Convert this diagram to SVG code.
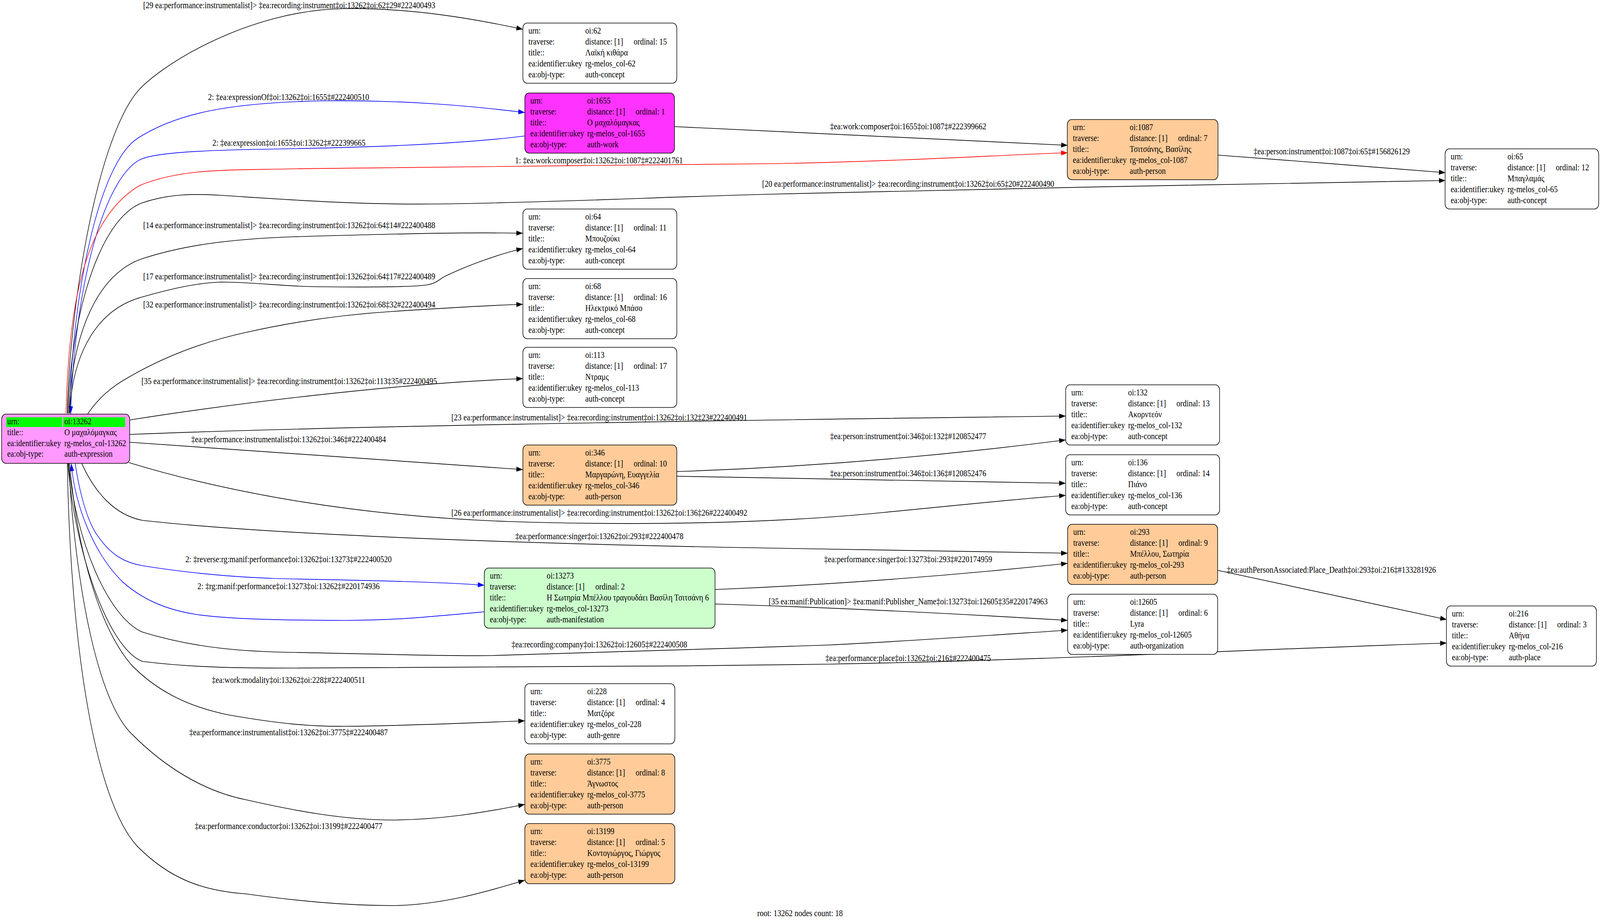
<svg xmlns="http://www.w3.org/2000/svg" width="4896" height="2360" viewBox="0 0 4896 2360" preserveAspectRatio="none">
<style>
svg{width:100vw;height:100vh}
text{font-family:"Liberation Serif","Times New Roman",serif;font-size:23.33px;fill:#000}
.lb{text-anchor:middle}
.nb{stroke:#000;stroke-width:1.7}
.w{fill:#fff}.o{fill:#ffcc99}.m{fill:#ff33ff}.g{fill:#ccffcc}.p{fill:#ff99ff}
.e{fill:none;stroke:#000;stroke-width:1.7}
.b{stroke:#0000ff}.r{stroke:#ff0000}
</style>
<defs>
<marker id="ak" markerUnits="userSpaceOnUse" markerWidth="22" markerHeight="14" refX="20" refY="6.5" orient="auto"><path d="M0,0 L20,6.5 L0,13 z" fill="#000"/></marker>
<marker id="ab" markerUnits="userSpaceOnUse" markerWidth="22" markerHeight="14" refX="20" refY="6.5" orient="auto"><path d="M0,0 L20,6.5 L0,13 z" fill="#0000ff"/></marker>
<marker id="ar" markerUnits="userSpaceOnUse" markerWidth="22" markerHeight="14" refX="20" refY="6.5" orient="auto"><path d="M0,0 L20,6.5 L0,13 z" fill="#ff0000"/></marker>
</defs>
<rect width="4896" height="2360" fill="#fff"/>
<g id="edges">
<path class="e" marker-end="url(#ak)" d="M206,1058 C212,800 290,380 414,241 C480,170 760,25 1054,22 C1260,20 1450,48 1600,75"/>
<path class="e b" marker-end="url(#ab)" d="M213,1058 C220,760 300,420 421,354 C540,290 700,262 1000,258 C1250,256 1450,272 1606,288"/>
<path class="e b" marker-end="url(#ab)" d="M1606,348 C1400,370 1100,378 800,382 C600,385 480,392 436,406 C330,440 230,700 216,1060"/>
<path class="e r" marker-end="url(#ar)" d="M202,1058 C210,800 250,560 429,474 C560,430 700,436 903,432 C1300,426 1900,424 2360,419 C2800,412 3100,395 3267,391"/>
<path class="e" marker-end="url(#ak)" d="M2063,324 C2500,338 2900,355 3267,372"/>
<path class="e" marker-end="url(#ak)" d="M3727,397 C3950,410 4200,428 4423,442"/>
<path class="e" marker-end="url(#ak)" d="M208,1058 C215,820 300,560 436,519 C520,495 600,496 677,500 C900,512 1100,525 1355,522 C1700,518 2000,505 2360,497 C3000,484 3800,470 4423,462"/>
<path class="e" marker-end="url(#ak)" d="M211,1058 C220,850 300,700 436,662 C560,628 700,612 900,606 C1150,600 1400,594 1600,597"/>
<path class="e" marker-end="url(#ak)" d="M213,1058 C222,900 300,790 436,760 C520,740 600,724 677,722 C780,722 880,734 978,734 C1100,735 1250,735 1300,730 C1340,726 1345,712 1370,704 C1430,680 1520,652 1600,636"/>
<path class="e" marker-end="url(#ak)" d="M268,1060 C300,1020 340,990 399,963 C500,915 620,875 752,851 C900,823 1050,805 1204,797 C1350,789 1480,782 1600,779"/>
<path class="e" marker-end="url(#ak)" d="M397,1075 C700,1035 1200,982 1600,969"/>
<path class="e" marker-end="url(#ak)" d="M397,1112 C1000,1092 2000,1078 3261,1065"/>
<path class="e" marker-end="url(#ak)" d="M396,1132 C800,1155 1200,1180 1600,1202"/>
<path class="e" marker-end="url(#ak)" d="M394,1184 C700,1262 1100,1322 1560,1335 C2000,1347 2400,1337 2700,1312 C2950,1292 3100,1278 3261,1268"/>
<path class="e" marker-end="url(#ak)" d="M250,1186 C290,1260 350,1318 436,1332 C900,1375 1800,1395 2360,1403 C2800,1409 3100,1414 3267,1416"/>
<path class="e b" marker-end="url(#ab)" d="M230,1186 C245,1270 270,1340 301,1374 C340,1420 380,1440 436,1448 C600,1470 750,1480 903,1482 C1150,1486 1350,1490 1482,1498"/>
<path class="e b" marker-end="url(#ab)" d="M1482,1566 C1300,1580 1200,1588 1054,1588 C900,1588 700,1585 602,1573 C500,1560 430,1530 376,1490 C290,1420 230,1300 218,1186"/>
<path class="e" marker-end="url(#ak)" d="M210,1186 C230,1380 330,1580 436,1618 C600,1660 750,1668 903,1670 C1200,1675 1400,1680 1505,1678 C1900,1670 2200,1660 2536,1651 C2800,1640 3050,1625 3267,1613"/>
<path class="e" marker-end="url(#ak)" d="M208,1186 C225,1400 330,1660 436,1693 C600,1710 750,1710 903,1710 C1500,1710 2000,1706 2536,1700 C3200,1690 3900,1660 4427,1646"/>
<path class="e" marker-end="url(#ak)" d="M213,1186 C235,1400 300,1600 400,1700 C480,1770 580,1810 700,1830 C850,1852 950,1860 1054,1859 C1250,1858 1450,1850 1606,1845"/>
<path class="e" marker-end="url(#ak)" d="M210,1186 C230,1500 300,1800 406,1881 C500,1960 620,2025 752,2047 C900,2075 1050,2099 1204,2099 C1350,2098 1480,2080 1606,2059"/>
<path class="e" marker-end="url(#ak)" d="M206,1186 C215,1650 290,2050 421,2167 C520,2250 620,2280 752,2288 C900,2305 1050,2318 1204,2318 C1350,2316 1480,2285 1606,2253"/>
<path class="e" marker-end="url(#ak)" d="M2071,1207 C2500,1195 2900,1165 3261,1126"/>
<path class="e" marker-end="url(#ak)" d="M2071,1219 C2500,1225 2900,1232 3261,1237"/>
<path class="e" marker-end="url(#ak)" d="M2188,1509 C2600,1495 2950,1470 3267,1442"/>
<path class="e" marker-end="url(#ak)" d="M2188,1546 C2600,1556 2950,1572 3267,1588"/>
<path class="e" marker-end="url(#ak)" d="M3727,1460 C3950,1500 4200,1545 4427,1586"/>
<text class="lb" x="885" y="21">[29 ea:performance:instrumentalist]&gt; ‡ea:recording:instrument‡oi:13262‡oi:62‡29#222400493</text>
<text class="lb" x="883" y="256">2: ‡ea:expressionOf‡oi:13262‡oi:1655‡#222400510</text>
<text class="lb" x="884" y="373">2: ‡ea:expression‡oi:1655‡oi:13262‡#222399665</text>
<text class="lb" x="1833" y="418">1: ‡ea:work:composer‡oi:13262‡oi:1087‡#222401761</text>
<text class="lb" x="2779" y="478">[20 ea:performance:instrumentalist]&gt; ‡ea:recording:instrument‡oi:13262‡oi:65‡20#222400490</text>
<text class="lb" x="885" y="584">[14 ea:performance:instrumentalist]&gt; ‡ea:recording:instrument‡oi:13262‡oi:64‡14#222400488</text>
<text class="lb" x="885" y="715">[17 ea:performance:instrumentalist]&gt; ‡ea:recording:instrument‡oi:13262‡oi:64‡17#222400489</text>
<text class="lb" x="885" y="787">[32 ea:performance:instrumentalist]&gt; ‡ea:recording:instrument‡oi:13262‡oi:68‡32#222400494</text>
<text class="lb" x="885" y="983">[35 ea:performance:instrumentalist]&gt; ‡ea:recording:instrument‡oi:13262‡oi:113‡35#222400495</text>
<text class="lb" x="1834" y="1076">[23 ea:performance:instrumentalist]&gt; ‡ea:recording:instrument‡oi:13262‡oi:132‡23#222400491</text>
<text class="lb" x="883" y="1132">‡ea:performance:instrumentalist‡oi:13262‡oi:346‡#222400484</text>
<text class="lb" x="1834" y="1320">[26 ea:performance:instrumentalist]&gt; ‡ea:recording:instrument‡oi:13262‡oi:136‡26#222400492</text>
<text class="lb" x="1834" y="1380">‡ea:performance:singer‡oi:13262‡oi:293‡#222400478</text>
<text class="lb" x="883" y="1439">2: ‡reverse:rg:manif:performance‡oi:13262‡oi:13273‡#222400520</text>
<text class="lb" x="883" y="1508">2: ‡rg:manif:performance‡oi:13273‡oi:13262‡#220174936</text>
<text class="lb" x="1834" y="1657">‡ea:recording:company‡oi:13262‡oi:12605‡#222400508</text>
<text class="lb" x="883" y="1748">‡ea:work:modality‡oi:13262‡oi:228‡#222400511</text>
<text class="lb" x="883" y="1882">‡ea:performance:instrumentalist‡oi:13262‡oi:3775‡#222400487</text>
<text class="lb" x="883" y="2122">‡ea:performance:conductor‡oi:13262‡oi:13199‡#222400477</text>
<text class="lb" x="2779" y="331">‡ea:work:composer‡oi:1655‡oi:1087‡#222399662</text>
<text class="lb" x="4075" y="395">‡ea:person:instrument‡oi:1087‡oi:65‡#156826129</text>
<text class="lb" x="2779" y="1124">‡ea:person:instrument‡oi:346‡oi:132‡#120852477</text>
<text class="lb" x="2779" y="1219">‡ea:person:instrument‡oi:346‡oi:136‡#120852476</text>
<text class="lb" x="2779" y="1439">‡ea:performance:singer‡oi:13273‡oi:293‡#220174959</text>
<text class="lb" x="2779" y="1547">[35 ea:manif:Publication]&gt; ‡ea:manif:Publisher_Name‡oi:13273‡oi:12605‡35#220174963</text>
<text class="lb" x="4074" y="1466">‡ea:authPersonAssociated:Place_Death‡oi:293‡oi:216‡#133281926</text>
<text class="lb" x="2779" y="1692">‡ea:performance:place‡oi:13262‡oi:216‡#222400475</text>
</g>
<g id="n13262">
<rect class="nb p" x="5" y="1060" width="392" height="126" rx="13"/>
<rect x="19" y="1068" width="171" height="25" fill="#00ff00"/>
<rect x="193" y="1068" width="190" height="25" fill="#00ff00"/>
<text x="22" y="1086">urn:</text><text x="197" y="1086">oi:13262</text>
<text x="22" y="1114">title::</text><text x="197" y="1114">Ο μαχαλόμαγκας</text>
<text x="22" y="1142">ea:identifier:ukey</text><text x="197" y="1142">rg-melos_col-13262</text>
<text x="22" y="1169">ea:obj-type:</text><text x="197" y="1169">auth-expression</text>
</g>
<g id="n62" transform="translate(1600,59)">
<rect class="nb w" width="471" height="154" rx="13"/>
<text x="17" y="27">urn:</text><text x="191" y="27">oi:62</text>
<text x="17" y="55">traverse:</text><text x="191" y="55">distance: [1]</text><text x="339" y="55">ordinal: 15</text>
<text x="17" y="83">title::</text><text x="191" y="83">Λαϊκή κιθάρα</text>
<text x="17" y="111">ea:identifier:ukey</text><text x="191" y="111">rg-melos_col-62</text>
<text x="17" y="139">ea:obj-type:</text><text x="191" y="139">auth-concept</text>
</g>
<g id="n1655" transform="translate(1606,238)">
<rect class="nb m" width="458" height="154" rx="13"/>
<text x="17" y="27">urn:</text><text x="191" y="27">oi:1655</text>
<text x="17" y="55">traverse:</text><text x="191" y="55">distance: [1]</text><text x="339" y="55">ordinal: 1</text>
<text x="17" y="83">title::</text><text x="191" y="83">Ο μαχαλόμαγκας</text>
<text x="17" y="111">ea:identifier:ukey</text><text x="191" y="111">rg-melos_col-1655</text>
<text x="17" y="139">ea:obj-type:</text><text x="191" y="139">auth-work</text>
</g>
<g id="n1087" transform="translate(3266,306)">
<rect class="nb o" width="461" height="154" rx="13"/>
<text x="17" y="27">urn:</text><text x="191" y="27">oi:1087</text>
<text x="17" y="55">traverse:</text><text x="191" y="55">distance: [1]</text><text x="339" y="55">ordinal: 7</text>
<text x="17" y="83">title::</text><text x="191" y="83">Τσιτσάνης, Βασίλης</text>
<text x="17" y="111">ea:identifier:ukey</text><text x="191" y="111">rg-melos_col-1087</text>
<text x="17" y="139">ea:obj-type:</text><text x="191" y="139">auth-person</text>
</g>
<g id="n65" transform="translate(4422,381)">
<rect class="nb w" width="470" height="154" rx="13"/>
<text x="17" y="27">urn:</text><text x="191" y="27">oi:65</text>
<text x="17" y="55">traverse:</text><text x="191" y="55">distance: [1]</text><text x="339" y="55">ordinal: 12</text>
<text x="17" y="83">title::</text><text x="191" y="83">Μπαγλαμάς</text>
<text x="17" y="111">ea:identifier:ukey</text><text x="191" y="111">rg-melos_col-65</text>
<text x="17" y="139">ea:obj-type:</text><text x="191" y="139">auth-concept</text>
</g>
<g id="n64" transform="translate(1600,535)">
<rect class="nb w" width="471" height="154" rx="13"/>
<text x="17" y="27">urn:</text><text x="191" y="27">oi:64</text>
<text x="17" y="55">traverse:</text><text x="191" y="55">distance: [1]</text><text x="339" y="55">ordinal: 11</text>
<text x="17" y="83">title::</text><text x="191" y="83">Μπουζούκι</text>
<text x="17" y="111">ea:identifier:ukey</text><text x="191" y="111">rg-melos_col-64</text>
<text x="17" y="139">ea:obj-type:</text><text x="191" y="139">auth-concept</text>
</g>
<g id="n68" transform="translate(1600,713)">
<rect class="nb w" width="471" height="154" rx="13"/>
<text x="17" y="27">urn:</text><text x="191" y="27">oi:68</text>
<text x="17" y="55">traverse:</text><text x="191" y="55">distance: [1]</text><text x="339" y="55">ordinal: 16</text>
<text x="17" y="83">title::</text><text x="191" y="83">Ηλεκτρικό Μπάσο</text>
<text x="17" y="111">ea:identifier:ukey</text><text x="191" y="111">rg-melos_col-68</text>
<text x="17" y="139">ea:obj-type:</text><text x="191" y="139">auth-concept</text>
</g>
<g id="n113" transform="translate(1600,889)">
<rect class="nb w" width="471" height="154" rx="13"/>
<text x="17" y="27">urn:</text><text x="191" y="27">oi:113</text>
<text x="17" y="55">traverse:</text><text x="191" y="55">distance: [1]</text><text x="339" y="55">ordinal: 17</text>
<text x="17" y="83">title::</text><text x="191" y="83">Ντραμς</text>
<text x="17" y="111">ea:identifier:ukey</text><text x="191" y="111">rg-melos_col-113</text>
<text x="17" y="139">ea:obj-type:</text><text x="191" y="139">auth-concept</text>
</g>
<g id="n132" transform="translate(3261,985)">
<rect class="nb w" width="471" height="154" rx="13"/>
<text x="17" y="27">urn:</text><text x="191" y="27">oi:132</text>
<text x="17" y="55">traverse:</text><text x="191" y="55">distance: [1]</text><text x="339" y="55">ordinal: 13</text>
<text x="17" y="83">title::</text><text x="191" y="83">Ακορντεόν</text>
<text x="17" y="111">ea:identifier:ukey</text><text x="191" y="111">rg-melos_col-132</text>
<text x="17" y="139">ea:obj-type:</text><text x="191" y="139">auth-concept</text>
</g>
<g id="n346" transform="translate(1600,1139)">
<rect class="nb o" width="471" height="154" rx="13"/>
<text x="17" y="27">urn:</text><text x="191" y="27">oi:346</text>
<text x="17" y="55">traverse:</text><text x="191" y="55">distance: [1]</text><text x="339" y="55">ordinal: 10</text>
<text x="17" y="83">title::</text><text x="191" y="83">Μαργαρώνη, Ευαγγελία</text>
<text x="17" y="111">ea:identifier:ukey</text><text x="191" y="111">rg-melos_col-346</text>
<text x="17" y="139">ea:obj-type:</text><text x="191" y="139">auth-person</text>
</g>
<g id="n136" transform="translate(3261,1164)">
<rect class="nb w" width="471" height="154" rx="13"/>
<text x="17" y="27">urn:</text><text x="191" y="27">oi:136</text>
<text x="17" y="55">traverse:</text><text x="191" y="55">distance: [1]</text><text x="339" y="55">ordinal: 14</text>
<text x="17" y="83">title::</text><text x="191" y="83">Πιάνο</text>
<text x="17" y="111">ea:identifier:ukey</text><text x="191" y="111">rg-melos_col-136</text>
<text x="17" y="139">ea:obj-type:</text><text x="191" y="139">auth-concept</text>
</g>
<g id="n293" transform="translate(3267,1342)">
<rect class="nb o" width="459" height="154" rx="13"/>
<text x="17" y="27">urn:</text><text x="191" y="27">oi:293</text>
<text x="17" y="55">traverse:</text><text x="191" y="55">distance: [1]</text><text x="339" y="55">ordinal: 9</text>
<text x="17" y="83">title::</text><text x="191" y="83">Μπέλλου, Σωτηρία</text>
<text x="17" y="111">ea:identifier:ukey</text><text x="191" y="111">rg-melos_col-293</text>
<text x="17" y="139">ea:obj-type:</text><text x="191" y="139">auth-person</text>
</g>
<g id="n13273" transform="translate(1482,1454)">
<rect class="nb g" width="706" height="154" rx="13"/>
<text x="17" y="27">urn:</text><text x="191" y="27">oi:13273</text>
<text x="17" y="55">traverse:</text><text x="191" y="55">distance: [1]</text><text x="340" y="55">ordinal: 2</text>
<text x="17" y="83">title::</text><text x="191" y="83">Η Σωτηρία Μπέλλου τραγουδάει Βασίλη Τσιτσάνη 6</text>
<text x="17" y="111">ea:identifier:ukey</text><text x="191" y="111">rg-melos_col-13273</text>
<text x="17" y="139">ea:obj-type:</text><text x="191" y="139">auth-manifestation</text>
</g>
<g id="n12605" transform="translate(3267,1521)">
<rect class="nb w" width="459" height="154" rx="13"/>
<text x="17" y="27">urn:</text><text x="191" y="27">oi:12605</text>
<text x="17" y="55">traverse:</text><text x="191" y="55">distance: [1]</text><text x="339" y="55">ordinal: 6</text>
<text x="17" y="83">title::</text><text x="191" y="83">Lyra</text>
<text x="17" y="111">ea:identifier:ukey</text><text x="191" y="111">rg-melos_col-12605</text>
<text x="17" y="139">ea:obj-type:</text><text x="191" y="139">auth-organization</text>
</g>
<g id="n216" transform="translate(4426,1551)">
<rect class="nb w" width="459" height="154" rx="13"/>
<text x="17" y="27">urn:</text><text x="191" y="27">oi:216</text>
<text x="17" y="55">traverse:</text><text x="191" y="55">distance: [1]</text><text x="339" y="55">ordinal: 3</text>
<text x="17" y="83">title::</text><text x="191" y="83">Αθήνα</text>
<text x="17" y="111">ea:identifier:ukey</text><text x="191" y="111">rg-melos_col-216</text>
<text x="17" y="139">ea:obj-type:</text><text x="191" y="139">auth-place</text>
</g>
<g id="n228" transform="translate(1606,1750)">
<rect class="nb w" width="459" height="154" rx="13"/>
<text x="17" y="27">urn:</text><text x="191" y="27">oi:228</text>
<text x="17" y="55">traverse:</text><text x="191" y="55">distance: [1]</text><text x="339" y="55">ordinal: 4</text>
<text x="17" y="83">title::</text><text x="191" y="83">Ματζόρε</text>
<text x="17" y="111">ea:identifier:ukey</text><text x="191" y="111">rg-melos_col-228</text>
<text x="17" y="139">ea:obj-type:</text><text x="191" y="139">auth-genre</text>
</g>
<g id="n3775" transform="translate(1606,1930)">
<rect class="nb o" width="459" height="154" rx="13"/>
<text x="17" y="27">urn:</text><text x="191" y="27">oi:3775</text>
<text x="17" y="55">traverse:</text><text x="191" y="55">distance: [1]</text><text x="339" y="55">ordinal: 8</text>
<text x="17" y="83">title::</text><text x="191" y="83">Άγνωστος</text>
<text x="17" y="111">ea:identifier:ukey</text><text x="191" y="111">rg-melos_col-3775</text>
<text x="17" y="139">ea:obj-type:</text><text x="191" y="139">auth-person</text>
</g>
<g id="n13199" transform="translate(1606,2108)">
<rect class="nb o" width="459" height="154" rx="13"/>
<text x="17" y="27">urn:</text><text x="191" y="27">oi:13199</text>
<text x="17" y="55">traverse:</text><text x="191" y="55">distance: [1]</text><text x="339" y="55">ordinal: 5</text>
<text x="17" y="83">title::</text><text x="191" y="83">Κοντογιώργος, Γιώργος</text>
<text x="17" y="111">ea:identifier:ukey</text><text x="191" y="111">rg-melos_col-13199</text>
<text x="17" y="139">ea:obj-type:</text><text x="191" y="139">auth-person</text>
</g>
<text class="lb" x="2448" y="2345">root: 13262 nodes count: 18</text>
</svg>
